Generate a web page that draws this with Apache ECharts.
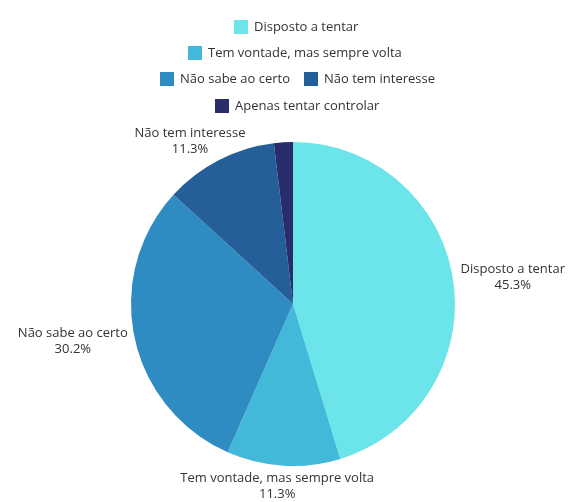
<!DOCTYPE html>
<html>
<head>
<meta charset="utf-8">
<script src="https://cdn.jsdelivr.net/npm/echarts@6/dist/echarts.min.js"></script>
<style>
  html, body { margin: 0; padding: 0; background: #fff; }
  #chart { width: 571px; height: 502px; }
</style>
</head>
<body>
<div id="chart"></div>
<script>
// answers and counts (53 respostas)
const categories = [
    'Disposto a tentar',
    'Tem vontade, mas sempre volta',
    'Não sabe ao certo',
    'Não tem interesse',
    'Apenas tentar controlar'
];
const counts = [24, 6, 16, 6, 1];
const colors = ['#6be4ea', '#43b9d9', '#2e8cc2', '#245f9a', '#2a2d6c'];
// legend rows as in the picture
const legendRows = [
    ['Disposto a tentar'],
    ['Tem vontade, mas sempre volta'],
    ['Não sabe ao certo', 'Não tem interesse'],
    ['Apenas tentar controlar']
];
const legendLeft = [229, 183, 155, 210];
const legendTop = [15, 41, 67, 94];

const font = 'Open Sans';

const chart = echarts.init(document.getElementById('chart'));

const pieData = categories.map((name, i) => ({
    name: name,
    value: counts[i],
    itemStyle: {color: colors[i]},
    label: {show: i !== 4}
}));

const legends = legendRows.map((row, i) => ({
    data: row,
    left: legendLeft[i],
    top: legendTop[i],
    icon: 'rect',
    itemWidth: 14,
    itemHeight: 14,
    itemGap: 14,
    selectedMode: false,
    textStyle: {fontFamily: font, fontSize: 13, color: '#333', padding: [0, 0, 0, 1]}
}));

const option = {
    backgroundColor: '#fff',
    animation: false,
    legend: legends,
    series: [
        {
            type: 'pie',
            center: [293, 304],
            radius: 162,
            startAngle: 90,
            percentPrecision: 1,
            avoidLabelOverlap: false,
            data: pieData,
            label: {
                position: 'outside',
                formatter: '{b}\n{d}%',
                fontFamily: font,
                fontSize: 13,
                lineHeight: 16,
                color: '#333'
            },
            labelLine: {
                show: true,
                length: 5,
                length2: 0,
                lineStyle: {opacity: 0, width: 0}
            },
            // put the label box next to the slice edge, like the original
            labelLayout: function (params) {
                const pts = params.labelLinePoints;
                if (!pts || pts.length < 2) return {};
                const dx0 = pts[1][0] - pts[0][0];
                const dy0 = pts[1][1] - pts[0][1];
                const len = Math.sqrt(dx0 * dx0 + dy0 * dy0) || 1;
                const dx = dx0 / len, dy = dy0 / len;
                const w = params.labelRect.width, h = params.labelRect.height;
                return {
                    x: pts[1][0] + dx * (w / 2 + 3),
                    y: pts[1][1] + dy * h / 2,
                    align: 'center',
                    verticalAlign: 'middle'
                };
            }
        }
    ]
};

chart.setOption(option);
</script>
</body>
</html>
